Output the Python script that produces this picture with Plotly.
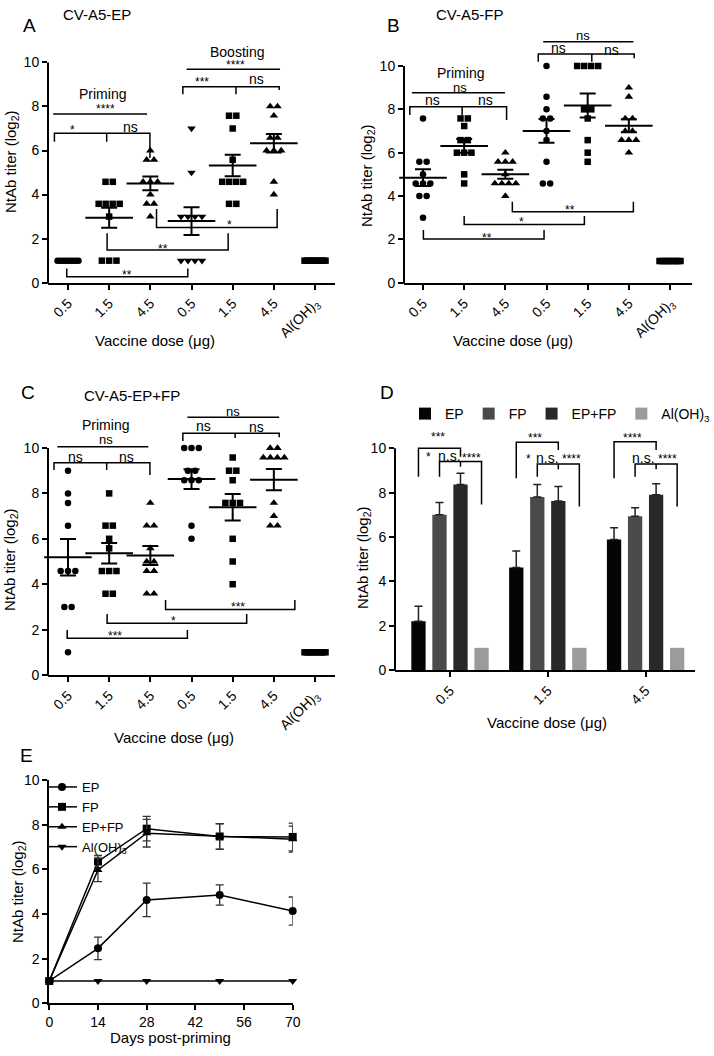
import numpy as np
import plotly.graph_objects as go

W, H = 714, 1056

# ---------------- data ----------------
dose_labels = ["0.5", "1.5", "4.5", "0.5", "1.5", "4.5", "Al(OH)<sub>3</sub>"]

# Panel A: CV-A5-EP (log2 NtAb titers per mouse)
ep_prime_05 = [1.0] * 10
ep_prime_15 = [4.58, 4.58, 3.58, 3.58, 3.58, 3.58, 3.0, 1.0, 1.0, 1.0]
ep_prime_45 = [6.0, 5.58, 5.58, 4.58, 4.58, 4.58, 4.0, 3.58, 3.58, 3.0]
ep_boost_05 = [7.0, 5.0, 3.0, 3.0, 3.0, 3.0, 1.0, 1.0, 1.0, 1.0]
ep_boost_15 = [7.58, 7.58, 7.0, 5.58, 4.58, 4.58, 4.58, 4.58, 3.58, 3.58]
ep_boost_45 = [8.0, 8.0, 7.58, 6.58, 6.58, 6.0, 6.0, 6.0, 4.58, 4.0]
ep_alum = [1.0] * 10

# Panel B: CV-A5-FP
fp_prime_05 = [7.58, 5.58, 5.58, 5.0, 4.58, 4.58, 4.58, 4.0, 4.0, 3.0]
fp_prime_15 = [7.58, 7.58, 7.23, 6.58, 6.58, 6.0, 6.0, 6.0, 5.0, 4.58]
fp_prime_45 = [6.0, 5.58, 5.58, 5.58, 5.0, 4.58, 4.58, 4.58, 4.58, 4.0]
fp_boost_05 = [10.0, 8.58, 8.0, 7.58, 7.58, 7.0, 6.58, 5.58, 4.58, 4.58]
fp_boost_15 = [10.0, 10.0, 10.0, 10.0, 8.0, 8.0, 7.58, 6.58, 6.0, 5.58]
fp_boost_45 = [9.0, 8.58, 7.58, 7.58, 7.0, 7.0, 6.58, 6.58, 6.58, 6.0]
fp_alum = [1.0] * 10

# Panel C: CV-A5-EP+FP
epfp_prime_05 = [9.0, 8.0, 7.58, 6.58, 4.58, 4.58, 4.58, 3.0, 3.0, 1.0]
epfp_prime_15 = [8.0, 6.58, 6.58, 6.0, 5.58, 4.58, 4.58, 4.58, 3.58, 3.58]
epfp_prime_45 = [7.58, 6.58, 6.58, 5.58, 5.0, 5.0, 4.58, 4.58, 3.58, 3.58]
epfp_boost_05 = [10.0, 10.0, 10.0, 9.0, 9.0, 8.58, 8.58, 8.58, 6.58, 6.0]
epfp_boost_15 = [9.58, 9.0, 9.0, 8.58, 7.58, 7.58, 7.58, 6.0, 5.0, 4.0]
epfp_boost_45 = [10.0, 10.0, 9.58, 9.58, 9.58, 9.58, 7.58, 7.0, 6.58, 6.58]
epfp_alum = [1.0] * 10

# Panel D: mean +/- SEM by route
bar_doses = ["0.5", "1.5", "4.5"]
bar_ep = [2.2, 4.62, 5.89]
bar_ep_sem = [0.67, 0.75, 0.53]
bar_fp = [7.0, 7.8, 6.94]
bar_fp_sem = [0.55, 0.57, 0.38]
bar_epfp = [8.37, 7.62, 7.9]
bar_epfp_sem = [0.51, 0.66, 0.5]
bar_alum = [1.0, 1.0, 1.0]

# Panel E: kinetics
days = [0, 14, 28, 49, 70]
line_ep = [1.0, 2.46, 4.63, 4.85, 4.13]
line_ep_sem = [0, 0.5, 0.75, 0.45, 0.63]
line_fp = [1.0, 6.35, 7.82, 7.47, 7.45]
line_fp_sem = [0, 0.27, 0.55, 0.57, 0.62]
line_epfp = [1.0, 5.97, 7.62, 7.47, 7.35]
line_epfp_sem = [0, 0.52, 0.62, 0.58, 0.58]
line_alum = [1.0, 1.0, 1.0, 1.0, 1.0]

# ---------------- geometry (page pixels) ----------------
FONT = "Liberation Sans, Arial, sans-serif"
NARROW = "Liberation Sans Narrow, Arial Narrow, Liberation Sans, sans-serif"

GEOM = {
    1: dict(x0=48, x1=335, t0=68, step=41.17, y0=282.7, k=22.03, ytop=10.5),
    2: dict(x0=404, x1=692, t0=423, step=41.17, y0=282.7, k=21.67, ytop=11.5),
    3: dict(x0=48, x1=335, t0=68, step=41.17, y0=675.0, k=22.7, ytop=11.8),
    4: dict(x0=395, x1=695, t0=450, step=97.8, y0=670.0, k=22.17, ytop=10.6),
}
E_GEOM = dict(x0=49.3, x1=292.7, y0=1003.3, k=22.33)


def px(x):
    return x / W


def py(y):
    return 1 - y / H


def names(n):
    return ("x" if n == 1 else f"x{n}", "y" if n == 1 else f"y{n}")


fig = go.Figure()
shapes = []
annotations = []


def ann(text, x, y, xref="paper", yref="paper", size=14, angle=0, family=FONT, **kw):
    annotations.append(dict(text=text, x=x, y=y, xref=xref, yref=yref, showarrow=False,
                            textangle=angle, font=dict(size=size, color="black", family=family),
                            xanchor=kw.pop("xanchor", "center"), yanchor=kw.pop("yanchor", "middle"), **kw))


axis_common = dict(showgrid=False, zeroline=False, ticks="outside", ticklen=5, tickwidth=1.5,
                   tickcolor="black", linecolor="black", linewidth=2, automargin=False,
                   tickfont=dict(size=14, color="black", family=FONT))

layout_axes = {}
for n, g in GEOM.items():
    xa, ya = names(n)
    xkey = "xaxis" if n == 1 else f"xaxis{n}"
    ykey = "yaxis" if n == 1 else f"yaxis{n}"
    ncat = 3 if n == 4 else 7
    layout_axes[xkey] = dict(axis_common, domain=[px(g["x0"]), px(g["x1"])],
                             range=[(g["x0"] - g["t0"]) / g["step"], (g["x1"] - g["t0"]) / g["step"]],
                             tickvals=list(range(ncat)),
                             ticktext=bar_doses if n == 4 else dose_labels,
                             tickangle=-45, showline=True, anchor=ya,
                             tickfont=dict(size=14, color="black", family=FONT))
    layout_axes[ykey] = dict(axis_common, domain=[py(g["y0"]), py(g["y0"] - g["ytop"] * g["k"])],
                             range=[0, g["ytop"]], tickvals=[0, 2, 4, 6, 8, 10],
                             showline=False, anchor=xa)
    # y-axis line from 0 to 10 only
    shapes.append(dict(type="line", xref="paper", yref="paper",
                       x0=px(g["x0"]), x1=px(g["x0"]), y0=py(g["y0"] + 1), y1=py(g["y0"] - 10 * g["k"]),
                       line=dict(color="black", width=2)))

layout_axes["xaxis5"] = dict(axis_common, domain=[px(E_GEOM["x0"]), px(E_GEOM["x1"])], range=[0, 70],
                             tickvals=[0, 14, 28, 42, 56, 70], showline=True, anchor="y5",
                             tickfont=dict(size=14, color="black", family=NARROW))
layout_axes["yaxis5"] = dict(axis_common, domain=[py(E_GEOM["y0"]), py(E_GEOM["y0"] - 10 * E_GEOM["k"])],
                             range=[0, 10], tickvals=[0, 2, 4, 6, 8, 10], showline=True, anchor="x5",
                             tickfont=dict(size=14, color="black", family=NARROW))


# ---------------- scatter panels A, B, C ----------------
def row_offsets(vals, step):
    vals = np.asarray(vals, dtype=float)
    xs = np.zeros(len(vals))
    for v in np.unique(vals):
        idx = np.where(vals == v)[0]
        m = len(idx)
        if m > 1:
            sp = min(7.3, 21.0 / (m - 1)) / step
            xs[idx] = (np.arange(m) - (m - 1) / 2) * sp
    return xs


sym_a = ["circle", "square", "triangle-up", "triangle-down", "square", "triangle-up", "square"]
sym_bc = ["circle", "square", "triangle-up", "circle", "square", "triangle-up", "square"]
size_of = {"circle": 6.5, "square": 6.5, "triangle-up": 7.5, "triangle-down": 7.5}

panels = [
    (1, [ep_prime_05, ep_prime_15, ep_prime_45, ep_boost_05, ep_boost_15, ep_boost_45, ep_alum], sym_a),
    (2, [fp_prime_05, fp_prime_15, fp_prime_45, fp_boost_05, fp_boost_15, fp_boost_45, fp_alum], sym_bc),
    (3, [epfp_prime_05, epfp_prime_15, epfp_prime_45, epfp_boost_05, epfp_boost_15, epfp_boost_45, epfp_alum], sym_bc),
]
for n, groups, syms in panels:
    xa, ya = names(n)
    step = GEOM[n]["step"]
    for i, (vals, sym) in enumerate(zip(groups, syms)):
        offs = row_offsets(vals, step)
        fig.add_trace(go.Scatter(x=i + offs, y=vals, mode="markers", xaxis=xa, yaxis=ya,
                                 marker=dict(symbol=sym, size=size_of[sym], color="black", line=dict(width=0)),
                                 showlegend=False, cliponaxis=False, hoverinfo="skip"))
        mean = float(np.mean(vals))
        sem = float(np.std(vals, ddof=1) / np.sqrt(len(vals)))
        if sem > 0:
            fig.add_trace(go.Scatter(x=[i], y=[mean], mode="markers", xaxis=xa, yaxis=ya,
                                     marker=dict(symbol="line-ew", size=34, color="black",
                                                 line=dict(width=2, color="black")),
                                     error_y=dict(type="data", array=[sem], width=8, thickness=2, color="black"),
                                     showlegend=False, cliponaxis=False, hoverinfo="skip"))

# ---------------- panel D bars ----------------
BARGAP, GROUPGAP = 0.14, 0.32
bar_specs = [("EP", bar_ep, bar_ep_sem, "#050505"), ("FP", bar_fp, bar_fp_sem, "#4a4a4a"),
             ("EP+FP", bar_epfp, bar_epfp_sem, "#282828"), ("Al(OH)<sub>3</sub>", bar_alum, None, "#9b9b9b")]
for name, vals, sem, col in bar_specs:
    err = None
    if sem is not None:
        err = dict(type="data", symmetric=False, array=sem, arrayminus=[0] * len(sem),
                   width=4, thickness=1.5, color="#222222")
    fig.add_trace(go.Bar(x=list(range(len(bar_doses))), y=vals, name=name, xaxis="x4", yaxis="y4",
                         marker=dict(color=col, line=dict(width=0)), error_y=err,
                         legend="legend", hoverinfo="skip"))

# ---------------- panel E lines ----------------
line_specs = [("EP", line_ep, line_ep_sem, "circle"), ("FP", line_fp, line_fp_sem, "square"),
              ("EP+FP", line_epfp, line_epfp_sem, "triangle-up"),
              ("Al(OH)<sub>3</sub>", line_alum, None, "triangle-down")]
for name, vals, sem, sym in line_specs:
    err = None
    if sem is not None:
        err = dict(type="data", array=sem, width=4, thickness=1.3, color="#333333")
    fig.add_trace(go.Scatter(x=days, y=vals, name=name, mode="lines+markers", xaxis="x5", yaxis="y5",
                             line=dict(color="black", width=1.5),
                             marker=dict(symbol=sym, size=8, color="black"),
                             error_y=err, cliponaxis=False, legend="legend2", hoverinfo="skip"))

# ---------------- significance brackets ----------------
def bracket(n, pts):
    xa, ya = names(n)
    path = "M " + " L ".join(f"{x},{y}" for x, y in pts)
    shapes.append(dict(type="path", path=path, xref=xa, yref=ya,
                       line=dict(color="black", width=1.5)))


def star(n, text, x, y, size=12):
    xa, ya = names(n)
    ann(text, x, y, xref=xa, yref=ya, size=size)


# A
bracket(1, [(-0.36, 7.66), (1.92, 7.66)])
bracket(1, [(-0.33, 6.4), (-0.33, 6.78), (1.99, 6.78), (1.99, 5.66)])
bracket(1, [(0.94, 6.78), (0.94, 6.4)])
bracket(1, [(2.88, 9.69), (5.15, 9.69)])
bracket(1, [(2.79, 8.55), (2.79, 8.9), (5.13, 8.9), (5.13, 8.75)])
bracket(1, [(4.08, 8.9), (4.08, 8.55)])
bracket(1, [(2.15, 3.35), (2.15, 2.51), (5.08, 2.51), (5.08, 3.35)])
bracket(1, [(0.95, 2.24), (0.95, 1.48), (3.89, 1.48), (3.89, 2.24)])
bracket(1, [(-0.03, 0.65), (-0.03, 0.27), (2.91, 0.27), (2.91, 0.65)])
star(1, "Priming", 0.85, 8.55, 14)
star(1, "****", 0.9, 7.88)
star(1, "*", 0.12, 6.95)
star(1, "ns", 1.51, 7.08, 14)
star(1, "Boosting", 4.11, 10.45, 14)
star(1, "****", 4.06, 9.88)
star(1, "***", 3.25, 9.1)
star(1, "ns", 4.58, 9.23, 14)
star(1, "*", 3.93, 2.6)
star(1, "**", 2.31, 1.54)
star(1, "**", 1.43, 0.33)

# B
bracket(2, [(-0.27, 8.77), (1.99, 8.77)])
bracket(2, [(-0.32, 7.74), (-0.32, 8.12), (2.03, 8.12), (2.03, 7.51)])
bracket(2, [(0.95, 8.12), (0.95, 7.74)])
bracket(2, [(2.92, 11.12), (5.11, 11.12)])
bracket(2, [(2.8, 10.2), (2.8, 10.55), (5.13, 10.55), (5.13, 10.36)])
bracket(2, [(4.1, 10.55), (4.1, 10.2)])
bracket(2, [(2.17, 3.74), (2.17, 3.28), (5.11, 3.28), (5.11, 3.74)])
bracket(2, [(1.0, 3.08), (1.0, 2.69), (3.92, 2.69), (3.92, 3.08)])
bracket(2, [(0.01, 2.43), (0.01, 2.02), (2.94, 2.02), (2.94, 2.43)])
star(2, "Priming", 0.9, 9.66, 14)
star(2, "ns", 0.9, 9.0, 13)
star(2, "ns", 0.23, 8.43, 14)
star(2, "ns", 1.51, 8.43, 14)
star(2, "Boosting", 3.88, 12.1, 14)
star(2, "ns", 3.88, 11.42, 13)
star(2, "ns", 3.3, 10.82, 14)
star(2, "ns", 4.58, 10.74, 14)
star(2, "**", 3.57, 3.37)
star(2, "*", 2.4, 2.8)
star(2, "**", 1.55, 2.06)

# C
bracket(3, [(-0.26, 10.06), (1.95, 10.06)])
bracket(3, [(-0.34, 9.03), (-0.34, 9.35), (1.99, 9.35), (1.99, 8.81)])
bracket(3, [(0.94, 9.35), (0.94, 9.03)])
bracket(3, [(2.9, 11.35), (5.13, 11.35)])
bracket(3, [(2.79, 10.31), (2.79, 10.65), (5.13, 10.65), (5.13, 10.47)])
bracket(3, [(4.06, 10.65), (4.06, 10.44)])
bracket(3, [(2.37, 3.3), (2.37, 2.89), (5.51, 2.89), (5.51, 3.3)])
bracket(3, [(0.95, 2.69), (0.95, 2.28), (4.34, 2.28), (4.34, 2.69)])
bracket(3, [(-0.02, 1.98), (-0.02, 1.62), (2.9, 1.62), (2.9, 1.98)])
star(3, "Priming", 0.92, 11.02, 14)
star(3, "ns", 0.92, 10.36, 13)
star(3, "ns", 0.17, 9.62, 14)
star(3, "ns", 1.43, 9.62, 14)
star(3, "Boosting", 4.0, 12.25, 14)
star(3, "ns", 4.0, 11.6, 13)
star(3, "ns", 3.29, 10.97, 14)
star(3, "ns", 4.58, 10.94, 14)
star(3, "***", 4.14, 2.98)
star(3, "*", 2.57, 2.39)
star(3, "***", 1.14, 1.7)

# D (bar centre offsets from the grouping settings)
slot = (1 - BARGAP) / 4
offs = [(-1.5 + j) * slot for j in range(4)]
d_levels = [  # top, top-left leg, top-right leg, second, mid tick, second-left leg, second-right leg
    (10.0, 8.72, 9.62, 9.4, 9.17, 8.72, 7.47),
    (10.27, 8.65, 9.92, 9.29, 9.05, 8.72, 7.37),
    (10.3, 8.65, 9.92, 9.29, 9.05, 8.72, 7.37),
]
d_texts = [
    [("***", -0.12, 10.5), ("*", -0.22, 9.6), ("n.s.", -0.01, 9.65), ("****", 0.22, 9.57)],
    [("***", 0.87, 10.45), ("*", 0.8, 9.53), ("n.s.", 1.0, 9.58), ("****", 1.24, 9.5)],
    [("****", 1.87, 10.45), ("n.s.", 1.98, 9.58), ("****", 2.22, 9.5)],
]
for i, (T, L, R, S, M, SL, SR) in enumerate(d_levels):
    bracket(4, [(i + offs[0], L), (i + offs[0], T), (i + offs[2], T), (i + offs[2], R)])
    bracket(4, [(i + offs[1], SL), (i + offs[1], S), (i + offs[3], S), (i + offs[3], SR)])
    bracket(4, [(i + offs[2], S), (i + offs[2], M)])
    for txt, x, y in d_texts[i]:
        star(4, txt, x, y, 14 if txt == "n.s." else 12)

# ---------------- titles / labels ----------------
ann("A", px(29), py(25), size=19)
ann("CV-A5-EP", px(97), py(15), size=15)
ann("B", px(393), py(25), size=19)
ann("CV-A5-FP", px(470), py(14), size=15)
ann("C", px(28), py(392), size=19)
ann("CV-A5-EP+FP", px(132), py(395), size=15)
ann("D", px(387), py(392), size=19)
ann("E", px(26), py(755), size=19)

ylab = "NtAb titer (log<sub>2</sub>)"
ann(ylab, px(11), py(162), size=15, angle=-90)
ann(ylab, px(367), py(175), size=15, angle=-90)
ann(ylab, px(10), py(560), size=15, angle=-90)
ann(ylab, px(363), py(558), size=15, angle=-90)
ann(ylab, px(18), py(892), size=15, angle=-90, family=NARROW)

xlab = "Vaccine dose (μg)"
ann(xlab, px(155), py(340), size=15)
ann(xlab, px(513), py(340), size=15)
ann(xlab, px(174), py(737), size=15)
ann(xlab, px(547), py(722), size=15)
ann("Days post-priming", px(170), py(1037), size=15, family=NARROW)

fig.update_layout(
    width=W, height=H, margin=dict(l=0, r=0, t=0, b=0, autoexpand=False),
    paper_bgcolor="white", plot_bgcolor="white",
    barmode="group", bargap=BARGAP, bargroupgap=GROUPGAP,
    font=dict(family=FONT, color="black"),
    shapes=shapes, annotations=annotations,
    legend=dict(orientation="h", x=px(405), y=py(398), xanchor="left", yanchor="top",
                font=dict(size=14, family=FONT, color="black"), bgcolor="rgba(0,0,0,0)",
                itemwidth=30, traceorder="normal"),
    legend2=dict(orientation="v", x=px(42), y=py(772), xanchor="left", yanchor="top",
                 font=dict(size=13, family=NARROW, color="black"), bgcolor="rgba(0,0,0,0)",
                 itemwidth=30, traceorder="normal"),
    **layout_axes,
)

# the page is photographed from its top-left corner, so drop the default body margin
fig.write_html("out.html", config={"displayModeBar": False},
               post_script="document.body.style.margin='0px';document.body.style.padding='0px';")
